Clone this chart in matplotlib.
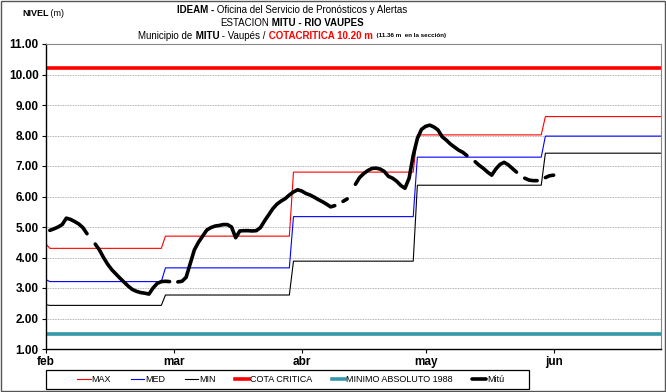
import numpy as np
import matplotlib
matplotlib.use("Agg")
import matplotlib.pyplot as plt
from matplotlib.patches import Rectangle

plt.rcParams['font.family'] = ['Liberation Sans Narrow', 'Liberation Sans', 'DejaVu Sans']

# niveles mensuales de referencia (feb..jun)
meses = ['feb', 'mar', 'abr', 'may', 'jun']
dias_mes = [28, 31, 30, 31, 30]
nivel_max = [4.30, 4.70, 6.80, 8.02, 8.62]
nivel_med = [3.21, 3.66, 5.34, 7.29, 7.98]
nivel_min = [2.43, 2.77, 3.88, 6.37, 7.42]
inicio_max = 4.45
inicio_med = 3.28
inicio_min = 2.45
cota_critica = 10.20
minimo_1988 = 1.50

# serie diaria Mitu desde el dia 1 (None = sin dato)
mitu = [4.89, 4.94, 5.00, 5.08, 5.29, 5.25, 5.18, 5.10, 4.98, 4.78,
        None, 4.44, 4.25, 4.00, 3.78, 3.60, 3.46, 3.32, 3.19, 3.06,
        2.95, 2.89, 2.85, 2.83, 2.80, 3.00, 3.15, 3.21, 3.22, 3.21,
        None, 3.20, 3.22, 3.35, 3.80, 4.25, 4.50, 4.70, 4.90, 4.98,
        5.03, 5.05, 5.08, 5.08, 5.00, 4.65, 4.87, 4.88, 4.88, 4.87,
        4.88, 4.98, 5.20, 5.40, 5.60, 5.75, 5.85, 5.93, 6.05, 6.15,
        6.22, 6.18, 6.10, 6.05, 5.98, 5.90, 5.83, 5.75, 5.66, 5.70,
        None, 5.84, 5.92, None, 6.40, 6.62, 6.75, 6.85, 6.92, 6.93,
        6.90, 6.82, 6.66, 6.60, 6.50, 6.36, 6.27, 6.60, 7.35, 7.90,
        8.20, 8.30, 8.34, 8.28, 8.18, 7.96, 7.85, 7.72, 7.62, 7.52,
        7.45, 7.34, None, 7.14, 7.02, 6.92, 6.80, 6.70, 6.90, 7.05,
        7.12, 7.04, 6.92, 6.80, None, 6.60, 6.54, 6.52, 6.52, None,
        6.62, 6.68, 6.70]


def escalones(inicio, valores):
    return np.array([inicio] + list(np.repeat(valores, dias_mes)))


y_max = escalones(inicio_max, nivel_max)
y_med = escalones(inicio_med, nivel_med)
y_min = escalones(inicio_min, nivel_min)
x_ref = np.arange(len(y_max))
y_mitu = np.array(mitu, dtype=float)
x_mitu = np.arange(1, len(mitu) + 1)

W, H = 666, 392
fig = plt.figure(figsize=(W / 100, H / 100), dpi=100)
ax = fig.add_axes([45.7 / W, 1 - 349 / H, (661 - 45.7) / W, (349 - 44) / H])

ax.plot(x_ref, y_max, color='#ff0000', lw=0.8, label='MAX')
ax.plot(x_ref, y_med, color='#0000ff', lw=0.8, label='MED')
ax.plot(x_ref, y_min, color='#000000', lw=0.8, label='MIN')
ax.axhline(cota_critica, color='#ff0000', lw=2.6, label='COTA CRITICA')
ax.axhline(minimo_1988, color='#3399aa', lw=2.6, label='MINIMO ABSOLUTO 1988')
ax.plot(x_mitu, y_mitu, color='black', lw=2.6, solid_capstyle='round',
        solid_joinstyle='round', label='Mitú')

ax.set_xlim(0, 149)
ax.set_ylim(1, 11)
ax.set_yticks(np.arange(1, 12))
ax.set_yticklabels(['%.2f' % v for v in np.arange(1, 12)], fontsize=8.5, fontweight='bold')
ax.set_xticks([0, 31, 62, 92, 123])
ax.set_xticklabels(meses, fontsize=8.5, fontweight='bold')
ax.tick_params(direction='out', length=3, width=0.8, pad=2)
ax.grid(axis='y', color='#999999', lw=0.6, ls=(0, (1, 1)))
ax.set_axisbelow(True)
for lado in ['top', 'right']:
    ax.spines[lado].set_color('#888888')
    ax.spines[lado].set_linewidth(0.8)
for lado in ['left', 'bottom']:
    ax.spines[lado].set_linewidth(1.0)

# leyenda sin marco dentro de una caja dibujada aparte
leg = fig.legend(loc='center', ncol=6, mode='expand', fontsize=6.5,
                 bbox_to_anchor=(77 / W, 1 - 389 / H, (504 - 77) / W, 19 / H),
                 frameon=False, handlelength=1.5, handletextpad=0.1,
                 borderaxespad=0, borderpad=0)
fig.patches.append(Rectangle((45.7 / W, 1 - 389 / H), (529 - 45.7) / W, 19 / H,
                             transform=fig.transFigure, fill=False,
                             edgecolor='black', lw=0.9))

fig.patches.append(Rectangle((0.002, 0.003), 0.996, 0.994, transform=fig.transFigure,
                             fill=False, edgecolor='#555555', lw=1.0))


def texto_mixto(xc, y, piezas, centrado=True):
    r = fig.canvas.get_renderer()
    objs = [fig.text(0, y, s, va='center', **kw) for s, kw in piezas]
    anchos = [t.get_window_extent(r).width for t in objs]
    x = xc * W - (sum(anchos) / 2 if centrado else 0)
    for t, w in zip(objs, anchos):
        t.set_x(x / W)
        x += w


texto_mixto(0.4384, 1 - 10 / H, [
    ('IDEAM -', dict(fontsize=7, fontweight='bold')),
    (' Oficina del Servicio de Pronósticos y Alertas', dict(fontsize=7))])
texto_mixto(0.4384, 1 - 23 / H, [
    ('ESTACION', dict(fontsize=7)),
    (' MITU - RIO VAUPES', dict(fontsize=7, fontweight='bold'))])
texto_mixto(0.4384, 1 - 36 / H, [
    ('Municipio de', dict(fontsize=7)),
    (' MITU', dict(fontsize=7, fontweight='bold')),
    (' - Vaupés /', dict(fontsize=7)),
    (' COTACRITICA 10.20 m', dict(fontsize=7, fontweight='bold', color='#ff0000')),
    ('  (11.36 m  en la sección)', dict(fontsize=4.5, fontweight='bold'))])
texto_mixto(22 / W, 1 - 13 / H, [
    ('NIVEL', dict(fontsize=6.5, fontweight='bold')),
    (' (m)', dict(fontsize=6.5))], centrado=False)

fig.savefig('out.png', dpi=100)
